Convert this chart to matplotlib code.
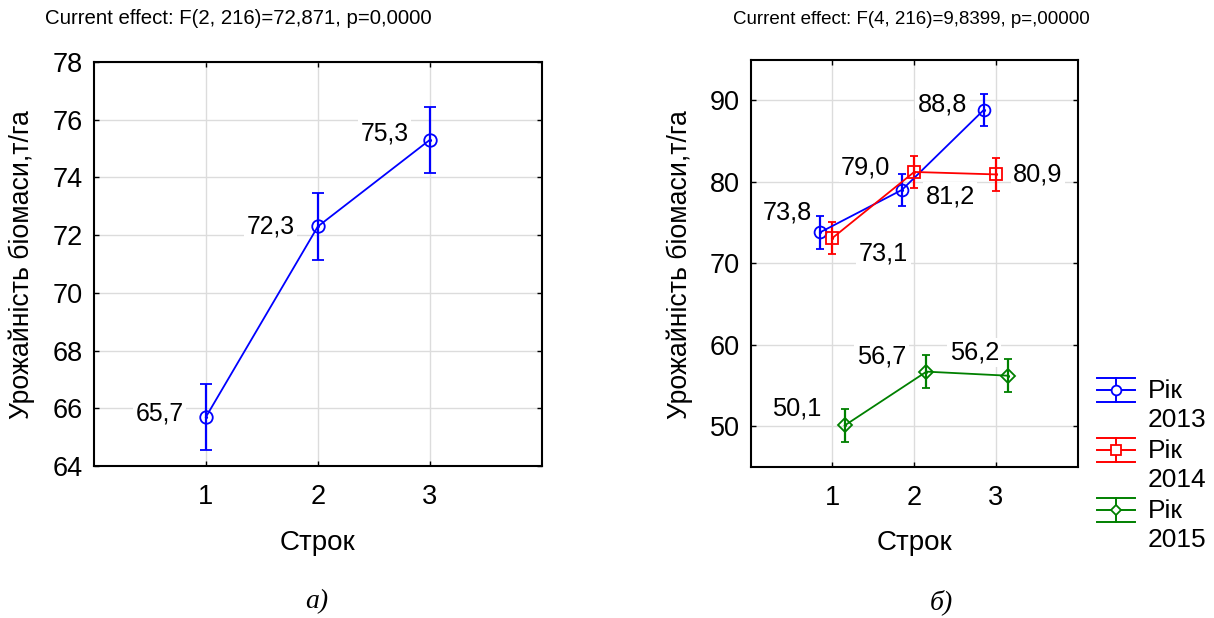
import matplotlib
matplotlib.use("Agg")
import matplotlib.pyplot as plt
from matplotlib.lines import Line2D

plt.rcParams['font.family'] = ['Liberation Sans', 'DejaVu Sans']

# ---------------- data ----------------
strok = [1, 2, 3]
strok_labels = ["1", "2", "3"]

# panel a) main effect
mean_a = [65.7, 72.3, 75.3]
err_a = [1.15, 1.15, 1.15]

# panel b) interaction Строк x Рік
years = ["2013", "2014", "2015"]
mean_2013 = [73.8, 79.0, 88.8]
mean_2014 = [73.1, 81.2, 80.9]
mean_2015 = [50.1, 56.7, 56.2]
err_2013 = [2.0, 2.0, 2.0]
err_2014 = [2.0, 2.0, 2.0]
err_2015 = [2.0, 2.0, 2.0]

title_a = "Current effect: F(2, 216)=72,871, p=0,0000"
title_b = "Current effect: F(4, 216)=9,8399, p=,00000"
ylabel = "Урожайність біомаси,т/га"
xlabel = "Строк"
year_prefix = "Рік"

# ---------------- styling / layout ----------------
W, H = 1214, 618
DPI = 100
fig = plt.figure(figsize=(W / DPI, H / DPI), dpi=DPI)


def fx(px):
    return px / W


def fy(py):
    return 1 - py / H


ax1 = fig.add_axes([fx(94), fy(466), fx(541.7 - 94), (466 - 62) / H])
ax2 = fig.add_axes([fx(750.7), fy(467), fx(1077.7 - 750.7), (467 - 59.5) / H])

GRID = '#dcdcdc'
FS = 19.5


def style_axes(ax):
    ax.grid(True, color=GRID, lw=1.0, zorder=0)
    ax.set_axisbelow(True)
    for s in ax.spines.values():
        s.set_linewidth(1.5)
        s.set_color('black')
    ax.tick_params(direction='in', top=True, right=True, length=3.5, width=1.0,
                   labelsize=FS, color='black')
    ax.tick_params(axis='x', pad=13)
    ax.tick_params(axis='y', pad=8)
    ax.set_xticks(strok)
    ax.set_xticklabels(strok_labels)
    ax.set_xlim(0, 4)


def fmt(v):
    return f"{v:.1f}".replace('.', ',')


# ---- panel a ----
style_axes(ax1)
ax1.set_ylim(64, 78)
ax1.set_yticks(range(64, 79, 2))
ax1.errorbar(strok, mean_a, yerr=err_a, color='#0000ff', marker='o', mfc='none',
             mec='#0000ff', ms=9, mew=1.3, lw=1.3, elinewidth=1.6, capsize=4.2,
             capthick=1.6, zorder=3)
ax1.plot(strok, mean_a, ls='none', marker='.', ms=2.5, color='#0000ff', zorder=4)

offs_a = [(-46, 3), (-47, 0), (-45, 6)]
for x, v, (dx, dy) in zip(strok, mean_a, offs_a):
    ax1.annotate(fmt(v), (x, v), xytext=(dx, dy), textcoords='offset pixels',
                 ha='center', va='center', fontsize=17.8, zorder=2,
                 bbox=dict(boxstyle='square,pad=0.1', fc='white', ec='none'))

# ---- panel b ----
style_axes(ax2)
ax2.set_ylim(45, 95)
ax2.set_yticks([50, 60, 70, 80, 90])

series = [
    (mean_2013, err_2013, '#0000ff', 'o', 8.5, -0.15),
    (mean_2014, err_2014, '#ff0000', 's', 9.0, 0.0),
    (mean_2015, err_2015, '#008000', 'D', 6.8, 0.15),
]
offs_b = [
    [(-33, 20), (-36, 22), (-41, 6)],
    [(51, -16), (36, -25), (42, 0)],
    [(-48, 17), (-45, 15), (-34, 23)],
]
for (means, errs, col, mk, ms, shift), offs in zip(series, offs_b):
    xs = [s + shift for s in strok]
    ax2.errorbar(xs, means, yerr=errs, color=col, marker=mk, mfc='none', mec=col,
                 ms=ms, mew=1.3, lw=1.3, elinewidth=1.6, capsize=3.2, capthick=1.6,
                 zorder=3)
    ax2.plot(xs, means, ls='none', marker='.', ms=2.5, color=col, zorder=4)
    for x, v, (dx, dy) in zip(xs, means, offs):
        ax2.annotate(fmt(v), (x, v), xytext=(dx, dy), textcoords='offset pixels',
                     ha='center', va='center', fontsize=18.3, zorder=2,
                     bbox=dict(boxstyle='square,pad=0.1', fc='white', ec='none'))

# ---- axis labels ----
for ax in (ax1, ax2):
    ax.set_xlabel(xlabel, fontsize=FS + 0.5, labelpad=14)

fig.text(fx(22), fy(265), ylabel, rotation=90, ha='center', va='center', fontsize=19.2)
fig.text(fx(680), fy(265), ylabel, rotation=90, ha='center', va='center', fontsize=19.2)

# ---- titles ----
fig.text(fx(45), fy(19), title_a, ha='left', va='center', fontsize=14.7)
fig.text(fx(911.5), fy(19), title_b, ha='center', va='center', fontsize=13.5)

# ---- captions ----
fig.text(fx(317), fy(602), "а)", ha='center', va='center', fontsize=20,
         family='Liberation Serif', style='italic')
fig.text(fx(941), fy(602), "б)", ha='center', va='center', fontsize=20,
         family='Liberation Serif', style='italic')

# ---- legend (STATISTICA style) ----
markers = [('#0000ff', 'o', 7), ('#ff0000', 's', 7), ('#008000', 'D', 5.5)]
for i, ((col, mk, ms), yr) in enumerate(zip(markers, years)):
    y0 = 390 + 60 * i
    xl, xr = 1096.7, 1135
    xc = (xl + xr) / 2
    for dy in (-12, 0, 12):
        fig.add_artist(Line2D([fx(xl), fx(xr)], [fy(y0 + dy), fy(y0 + dy)],
                              color=col, lw=1.4, transform=fig.transFigure))
    fig.add_artist(Line2D([fx(xc), fx(xc)], [fy(y0 - 12), fy(y0 + 12)],
                          color=col, lw=1.4, transform=fig.transFigure))
    fig.add_artist(Line2D([fx(xc)], [fy(y0)], color=col, marker=mk, ms=ms,
                          mfc='white', mec=col, mew=1.3, ls='none',
                          transform=fig.transFigure))
    fig.text(fx(1148), fy(y0 + 1), year_prefix, ha='left', va='center', fontsize=19)
    fig.text(fx(1148), fy(y0 + 30), yr, ha='left', va='center', fontsize=19)

fig.savefig("out.png", dpi=DPI)
